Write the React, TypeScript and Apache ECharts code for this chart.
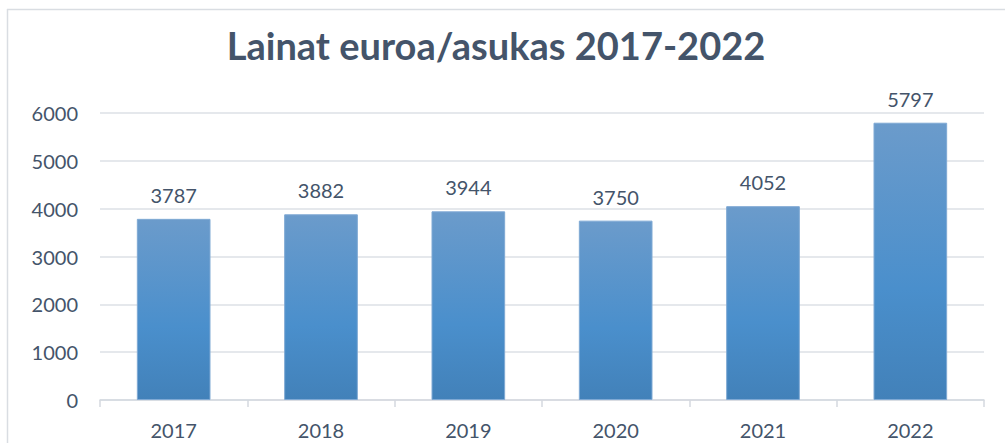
import React, { useEffect, useRef } from "react";
import * as echarts from "echarts";

const categories = ["2017", "2018", "2019", "2020", "2021", "2022"];
const values = [3787, 3882, 3944, 3750, 4052, 5797];
const titleText = "Lainat euroa/asukas 2017-2022";

const TEXT = "#44546A";
const FONT = "Lato, 'Open Sans', sans-serif";

export default function App() {
  const ref = useRef<HTMLDivElement>(null);
  useEffect(() => {
    const chart = echarts.init(ref.current!, null, { renderer: "svg" });
    chart.setOption({
      animation: false,
      backgroundColor: "#ffffff",
      title: {
        text: titleText,
        left: 491,
        textAlign: "center",
        top: 21,
        textStyle: { color: TEXT, fontFamily: FONT, fontWeight: "bold", fontSize: 38 },
      },
      graphic: [
        { type: "line", shape: { x1: 7, y1: 9.5, x2: 1005, y2: 9.5 }, style: { stroke: "#d9dde2", lineWidth: 1.5 } },
        { type: "line", shape: { x1: 7.5, y1: 9, x2: 7.5, y2: 443 }, style: { stroke: "#d9dde2", lineWidth: 1.5 } },
      ],
      grid: { left: 100, right: 21, top: 113, bottom: 43, containLabel: false },
      xAxis: {
        type: "category",
        data: categories,
        axisLine: { show: true, lineStyle: { color: "#d4d9df", width: 1.5 } },
        axisTick: { show: true, length: 7, lineStyle: { color: "#d4d9df", width: 1.5 } },
        axisLabel: { color: TEXT, fontFamily: FONT, fontSize: 20, margin: 20 },
      },
      yAxis: {
        type: "value",
        min: 0,
        max: 6000,
        interval: 1000,
        axisLine: { show: false },
        axisTick: { show: false },
        splitLine: { lineStyle: { color: "#dde1e6", width: 1.5 } },
        axisLabel: {
          color: TEXT,
          fontFamily: FONT,
          fontSize: 20,
          margin: 22,
          formatter: (v: number) => String(v),
        },
      },
      series: [
        {
          type: "bar",
          data: values,
          barWidth: "50%",
          itemStyle: {
            color: new echarts.graphic.LinearGradient(0, 0, 0, 1, [
              { offset: 0, color: "#6b9bcb" },
              { offset: 0.6, color: "#4a8fcc" },
              { offset: 1, color: "#4281b9" },
            ]),
            borderColor: "#7fa9d4",
            borderWidth: 1,
          },
          label: {
            show: true,
            position: "top",
            distance: 14,
            color: TEXT,
            fontFamily: FONT,
            fontSize: 20,
          },
        },
      ],
    });
    return () => chart.dispose();
  }, []);
  return (
    <div
      ref={ref}
      style={{ position: "fixed", left: 0, top: 0, width: 1005, height: 443 }}
    />
  );
}
